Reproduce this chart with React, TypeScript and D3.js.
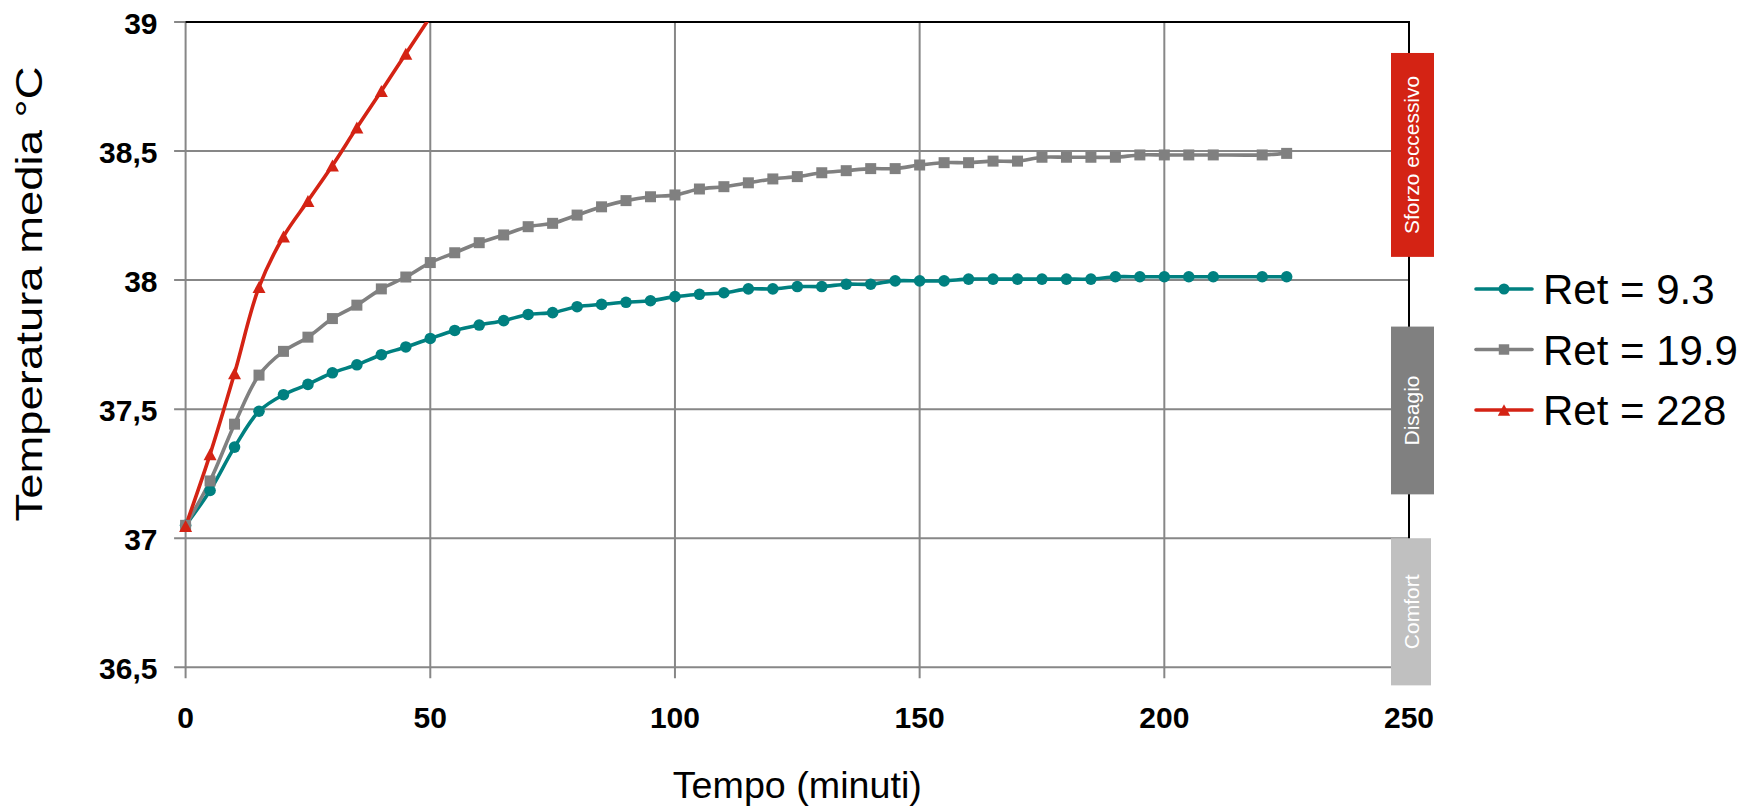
import React from "react";
import * as d3 from "d3";

// ---------- data ----------
const timesLong: number[] = [
  0, 5, 10, 15, 20, 25, 30, 35, 40, 45, 50, 55, 60, 65, 70, 75, 80, 85, 90, 95,
  100, 105, 110, 115, 120, 125, 130, 135, 140, 145, 150, 155, 160, 165, 170,
  175, 180, 185, 190, 195, 200, 205, 210, 220, 225,
];
const ret93: number[] = [
  37.05, 37.185, 37.353, 37.492, 37.556, 37.596, 37.641, 37.672, 37.711,
  37.741, 37.774, 37.805, 37.826, 37.843, 37.867, 37.874, 37.897, 37.906,
  37.914, 37.92, 37.936, 37.945, 37.951, 37.966, 37.966, 37.975, 37.975,
  37.984, 37.984, 37.997, 37.997, 37.997, 38.004, 38.004, 38.004, 38.004,
  38.004, 38.004, 38.013, 38.013, 38.013, 38.013, 38.013, 38.013, 38.013,
];
const ret199: number[] = [
  37.05, 37.222, 37.442, 37.632, 37.724, 37.779, 37.851, 37.903, 37.966,
  38.012, 38.068, 38.106, 38.145, 38.175, 38.207, 38.22, 38.252, 38.284,
  38.308, 38.323, 38.33, 38.353, 38.362, 38.377, 38.392, 38.401, 38.416,
  38.424, 38.432, 38.432, 38.446, 38.455, 38.455, 38.461, 38.461, 38.476,
  38.476, 38.476, 38.476, 38.485, 38.485, 38.485, 38.485, 38.485, 38.491,
];
const timesShort: number[] = [0, 5, 10, 15, 20, 25, 30, 35, 40, 45, 50];
const ret228: number[] = [
  37.047, 37.325, 37.639, 37.973, 38.169, 38.307, 38.444, 38.591, 38.733,
  38.877, 39.02,
];
const xTicks: number[] = [0, 50, 100, 150, 200, 250];
const yTicks: number[] = [36.5, 37, 37.5, 38, 38.5, 39];
const yTickLabels: string[] = ["36,5", "37", "37,5", "38", "38,5", "39"];
const seriesNames: string[] = ["Ret = 9.3", "Ret = 19.9", "Ret = 228"];
const zoneNames: string[] = ["Sforzo eccessivo", "Disagio", "Comfort"];
const zoneRanges: [number, number][] = [
  [38.88, 38.09],
  [37.82, 37.17],
  [37.0, 36.43],
];

const FONT = "'Liberation Sans', Arial, Helvetica, sans-serif";
const TEAL = "#008080";
const GRAY = "#808080";
const RED = "#D42314";
const GRID = "#878787";

const W = 1750;
const H = 807;
const L = 185.6;
const R = 1409;
const T = 22;
const B = 667.3;

type Pt = { t: number; v: number };

function Marker({ kind, x, y, color, size = 1 }: { kind: string; x: number; y: number; color: string; size?: number }) {
  if (kind === "circle") return <circle cx={x} cy={y} r={5.8 * size} fill={color} />;
  if (kind === "square") {
    const s = 11 * size;
    return <rect x={x - s / 2} y={y - s / 2} width={s} height={s} fill={color} />;
  }
  const w = 13 * size;
  const h = 12 * size;
  return (
    <path
      d={`M${x},${y - h / 2}L${x + w / 2},${y + h / 2}L${x - w / 2},${y + h / 2}Z`}
      fill={color}
    />
  );
}

export default function App() {
  const x = d3.scaleLinear().domain([0, 250]).range([L, R]);
  const y = d3.scaleLinear().domain([36.5, 39]).range([B, T]);

  const series = [
    { name: seriesNames[0], color: TEAL, kind: "circle", pts: timesLong.map((t, i) => ({ t, v: ret93[i] })) },
    { name: seriesNames[1], color: GRAY, kind: "square", pts: timesLong.map((t, i) => ({ t, v: ret199[i] })) },
    { name: seriesNames[2], color: RED, kind: "triangle", pts: timesShort.map((t, i) => ({ t, v: ret228[i] })) },
  ];

  const line = d3
    .line<Pt>()
    .x((d) => x(d.t))
    .y((d) => y(d.v))
    .curve(d3.curveCatmullRom.alpha(0.5));

  const zoneColors = [RED, "#808080", "#C0C0C0"];
  const zoneX = [
    [1391, 1434],
    [1391, 1434],
    [1391, 1431],
  ];
  const zoneLen = [158, 0, 0];

  return (
    <svg
      width={W}
      height={H}
      viewBox={`0 0 ${W} ${H}`}
      style={{ position: "absolute", left: 0, top: 0, display: "block", background: "#fff" }}
      fontFamily={FONT}
    >
      <defs>
        <clipPath id="plotclip">
          <rect x={L} y={T} width={R - L} height={B - T} />
        </clipPath>
      </defs>
      <rect x={0} y={0} width={W} height={H} fill="#fff" />

      {/* horizontal gridlines */}
      {yTicks.map((v) => (
        <line key={"hg" + v} x1={L - 11.5} x2={R} y1={y(v)} y2={y(v)} stroke={GRID} strokeWidth={2} />
      ))}
      {/* vertical gridlines */}
      {xTicks.map((t) => (
        <line key={"vg" + t} x1={x(t)} x2={x(t)} y1={T} y2={B + 11} stroke={GRID} strokeWidth={2} />
      ))}
      {/* top & right border */}
      <line x1={L} x2={R + 1} y1={T} y2={T} stroke="#000" strokeWidth={2} />
      <line x1={R} x2={R} y1={T} y2={B} stroke="#000" strokeWidth={2} />

      {/* y tick labels */}
      {yTicks.map((v, i) => (
        <text key={"yl" + v} x={157.5} y={y(v) + 12} textAnchor="end" fontSize={30} fontWeight="bold" fill="#000">
          {yTickLabels[i]}
        </text>
      ))}
      {/* x tick labels */}
      {xTicks.map((t) => (
        <text key={"xl" + t} x={x(t)} y={728} textAnchor="middle" fontSize={30} fontWeight="bold" fill="#000">
          {t}
        </text>
      ))}

      {/* axis titles */}
      <text
        x={(L + R) / 2}
        y={798}
        textAnchor="middle"
        fontSize={36.5}
        fill="#000"
        textLength={249}
        lengthAdjust="spacingAndGlyphs"
      >
        Tempo (minuti)
      </text>
      <text
        transform={`translate(41.7, 294) rotate(-90)`}
        textAnchor="middle"
        fontSize={37}
        fill="#000"
        textLength={455}
        lengthAdjust="spacingAndGlyphs"
      >
        Temperatura media °C
      </text>

      {/* series */}
      <g clipPath="url(#plotclip)">
        {series.map((s) => (
          <path key={s.name} d={line(s.pts) || ""} fill="none" stroke={s.color} strokeWidth={3.6} strokeLinejoin="round" />
        ))}
      </g>
      {series.map((s) => (
        <g key={s.name + "m"}>
          {s.pts
            .filter((p) => p.v <= 39)
            .map((p) => (
              <Marker key={p.t} kind={s.kind} x={x(p.t)} y={y(p.v)} color={s.color} />
            ))}
        </g>
      ))}

      {/* zone bars */}
      {zoneNames.map((z, i) => {
        const y0 = y(zoneRanges[i][0]);
        const y1 = y(zoneRanges[i][1]);
        const cy = (y0 + y1) / 2;
        const x0 = zoneX[i][0];
        const x1 = zoneX[i][1];
        return (
          <g key={z}>
            <rect x={x0} y={y0} width={x1 - x0} height={y1 - y0} fill={zoneColors[i]} />
            <text
              transform={`translate(${1418.5}, ${cy}) rotate(-90)`}
              textAnchor="middle"
              fontSize={21}
              fill="#fff"
              {...(zoneLen[i] ? { textLength: zoneLen[i], lengthAdjust: "spacingAndGlyphs" } : {})}
            >
              {z}
            </text>
          </g>
        );
      })}

      {/* legend */}
      {series.map((s, i) => {
        const cy = 289 + i * 60.5;
        return (
          <g key={s.name + "lg"}>
            <line x1={1476} x2={1532} y1={cy} y2={cy} stroke={s.color} strokeWidth={3.6} strokeLinecap="round" />
            <Marker kind={s.kind} x={1504} y={cy} color={s.color} size={0.95} />
            <text x={1543} y={cy + 15} fontSize={42} fill="#000">
              {s.name}
            </text>
          </g>
        );
      })}
    </svg>
  );
}
